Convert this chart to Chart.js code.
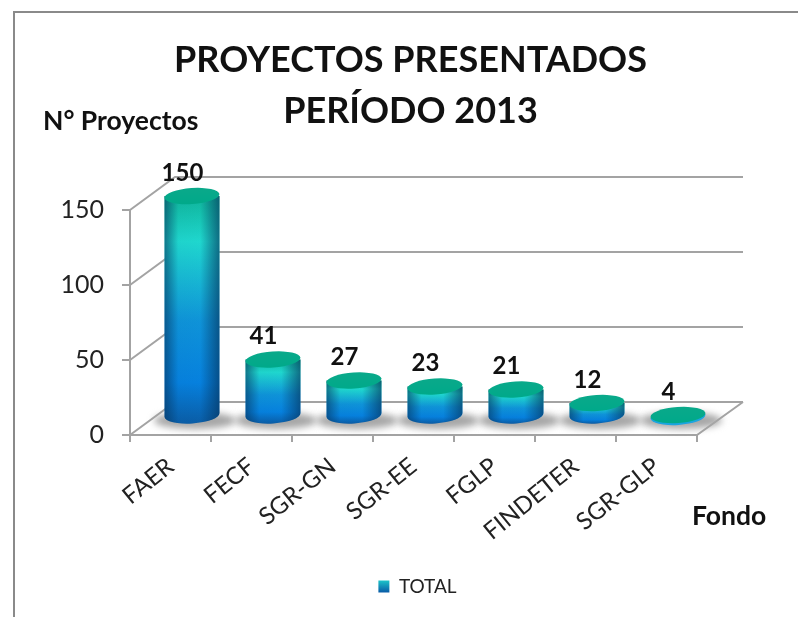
<!DOCTYPE html>
<html><head><meta charset="utf-8">
<style>html,body{margin:0;padding:0;background:#fff}#w{position:relative;width:798px;height:617px}</style>
<script src="https://cdn.jsdelivr.net/npm/chart.js@4"></script>
</head><body><div id="w"><canvas id="c" width="798" height="617"></canvas></div>
<script>
const categories=["FAER","FECF","SGR-GN","SGR-EE","FGLP","FINDETER","SGR-GLP"];
const totals=[150,41,27,23,21,12,4];
const yTicks=[0,50,100,150];
const seriesName="TOTAL";
const titleLines=["PROYECTOS PRESENTADOS","PERÍODO 2013"];
const yAxisTitle="N° Proyectos";
const xAxisTitle="Fondo";

const GRID="#a3a3a3",DX=45,DY=33;
const FONT="Lato, 'Open Sans', sans-serif";
function ell(ctx,cx,cy,rx,ry,rot){ctx.beginPath();ctx.ellipse(cx,cy,rx,ry,rot,0,Math.PI*2);}
const TILT=-0.07;
const scene={id:'scene',
 afterLayout(ch){ch.legend.left+=4;ch.legend.right+=4;ch.titleBlock.left-=3;ch.titleBlock.right-=3;},
 beforeDraw(ch){const c=ch.ctx;c.save();c.fillStyle='#fff';c.fillRect(0,0,798,617);
  c.strokeStyle='#8a8a8a';c.lineWidth=2;c.beginPath();c.moveTo(14,617);c.lineTo(14,12);c.lineTo(798,12);c.stroke();c.restore();},
 beforeDatasetsDraw(ch){
  const c=ch.ctx,y=ch.scales.y,a=ch.chartArea;c.save();
  c.strokeStyle=GRID;c.lineWidth=2;
  yTicks.forEach(v=>{const p=y.getPixelForValue(v);c.beginPath();c.moveTo(a.left,p);c.lineTo(a.left+DX,p-DY);c.lineTo(a.right+DX+1,p-DY);c.stroke();});
  c.beginPath();c.moveTo(a.left,a.bottom);c.lineTo(a.right,a.bottom);c.lineTo(a.right+DX+1,a.bottom-DY);c.stroke();
  const meta=ch.getDatasetMeta(0);const rx=27.5,ry=8.5;
  meta.data.forEach((b,i)=>{const cx=b.x+21.5;
   c.save();c.filter='blur(3.5px)';c.fillStyle='#a6a6a6';ell(c,cx+3,420.5,41,8.5,0);c.fill();c.restore();});
  meta.data.forEach((b,i)=>{
   const cx=b.x+21.5,topY=b.y-14,botY=415;
   const dh=botY-topY;
   if(dh>2){
    c.save();
    c.beginPath();c.ellipse(cx,botY,rx,ry,TILT,0,Math.PI);c.lineTo(cx-rx,topY);c.lineTo(cx+rx,topY);c.closePath();c.clip();
    const g=c.createLinearGradient(0,topY,0,botY+ry);
    g.addColorStop(0,'#0fb89c');g.addColorStop(.2,'#20dcd2');g.addColorStop(.55,'#0f96dc');g.addColorStop(.82,'#0683e2');g.addColorStop(1,'#0a5ea8');
    c.fillStyle=g;c.fillRect(cx-rx-1,topY-ry,2*rx+2,dh+2*ry+2);
    const h=c.createLinearGradient(cx-rx,0,cx+rx,0);
    h.addColorStop(0,'rgba(5,50,90,.6)');h.addColorStop(.25,'rgba(5,50,90,.05)');h.addColorStop(.65,'rgba(5,50,90,.03)');h.addColorStop(1,'rgba(5,50,90,.65)');
    c.fillStyle=h;c.fillRect(cx-rx-1,topY-ry,2*rx+2,dh+2*ry+2);
    c.restore();
   } else {
    c.fillStyle='#1aa5e0';ell(c,cx,topY+1.5,rx,ry,TILT);c.fill();
   }
   const t=c.createLinearGradient(0,topY-ry,0,topY+ry);
   t.addColorStop(0,'#0aa98a');t.addColorStop(1,'#00a98a');
   c.fillStyle=t;ell(c,cx,topY,rx,ry-.5,TILT);c.fill();
   c.fillStyle='#111';c.font="bold 24px "+FONT;c.textAlign='center';c.textBaseline='middle';
   c.fillText(String(totals[i]),cx-9.5,topY-23);
  });
  c.restore();
 },
 afterDraw(ch){const c=ch.ctx;c.save();c.fillStyle='#111';c.font="bold 26.5px "+FONT;c.textAlign='left';c.textBaseline='middle';
  c.fillText(yAxisTitle,43,121);c.fillText(xAxisTitle,692,516);c.restore();}
};
new Chart(document.getElementById('c'),{
 type:'bar',
 data:{labels:categories,datasets:[{label:seriesName,data:totals,backgroundColor:'rgba(0,0,0,0)',borderWidth:0}]},
 plugins:[scene],
 options:{responsive:false,animation:false,
  layout:{padding:{top:0,left:0,right:101,bottom:11}},
  scales:{
   x:{grid:{drawOnChartArea:false,drawTicks:true,tickLength:7,color:GRID,lineWidth:2},border:{color:GRID,width:2},
      ticks:{minRotation:39,maxRotation:39,color:'#222',font:{family:FONT,size:24},padding:10},
      afterFit(s){s.height=132;}},
   y:{min:0,max:150,afterBuildTicks(s){s.ticks=yTicks.map(v=>({value:v}));},
      grid:{drawOnChartArea:false,drawTicks:true,tickLength:8,color:GRID,lineWidth:2},border:{color:GRID,width:2},
      ticks:{color:'#222',font:{family:FONT,size:25},padding:18},
      afterFit(s){s.width=130;}}
  },
  plugins:{
   title:{display:true,fullSize:false,text:titleLines,color:'#111',font:{family:FONT,size:36,weight:'bold',lineHeight:1.41},padding:{top:35,bottom:73.5}},
   legend:{display:true,position:'bottom',fullSize:false,labels:{color:'#222',font:{family:FONT,size:19},boxWidth:11,boxHeight:12,
     generateLabels(ch){const g=ch.ctx.createLinearGradient(0,578,0,592);g.addColorStop(0,'#1fdad0');g.addColorStop(1,'#0a5ea8');
       return [{text:seriesName,fillStyle:g,strokeStyle:'rgba(0,0,0,0)',lineWidth:0,datasetIndex:0,fontColor:'#222'}];}}},
   tooltip:{enabled:false}
  }
 }
});
</script></body></html>
